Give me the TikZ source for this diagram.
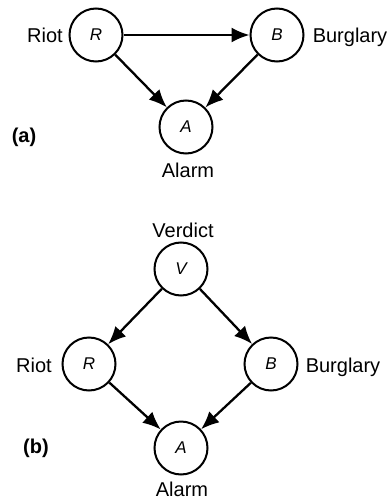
\documentclass[tikz,border=0pt]{standalone}
\usepackage{fontspec}
\setmainfont{Liberation Sans}
\usetikzlibrary{arrows.meta}

\tikzset{
  var/.style={draw,circle,line width=2pt,minimum size=53pt,inner sep=0pt,
    font=\itshape\fontsize{17}{17}\selectfont},
  lab/.style={font=\fontsize{20}{20}\selectfont},
  edge/.style={line width=2.3pt,-{Latex[length=18pt,width=15pt]}},
}

\begin{document}
\begin{tikzpicture}[x=1pt,y=-1pt]
\useasboundingbox (0,0) rectangle (389,500);

% (a)
\node[var] (Ra) at (96,35) {R};
\node[var] (Ba) at (277,35) {B};
\node[var] (Aa) at (186,127) {A};

\node[lab] (riota) at (45,35) {Riot};
\node[lab] (burga) at (350,37) {Burglary};
\node[lab] (alarma) at (188,170) {Alarm};
\node[lab,font=\bfseries\fontsize{20}{20}\selectfont] (capa) at (24,137) {(a)};

\draw[edge] (Ra) -- (Ba);
\draw[edge] (Ra) -- (Aa);
\draw[edge] (Ba) -- (Aa);

% (b)
\node[var] (Vb) at (181,269) {V};
\node[var] (Rb) at (89,364) {R};
\node[var] (Bb) at (271,364) {B};
\node[var] (Ab) at (181,448) {A};

\node[lab] (verdb) at (183,230) {Verdict};
\node[lab] (riotb) at (34,365) {Riot};
\node[lab] (burgb) at (343,367) {Burglary};
\node[lab] (alarmb) at (182,489) {Alarm};
\node[lab,font=\bfseries\fontsize{20}{20}\selectfont] (capb) at (36,448) {(b)};

\draw[edge] (Vb) -- (Rb);
\draw[edge] (Vb) -- (Bb);
\draw[edge] (Rb) -- (Ab);
\draw[edge] (Bb) -- (Ab);
\end{tikzpicture}
\end{document}
